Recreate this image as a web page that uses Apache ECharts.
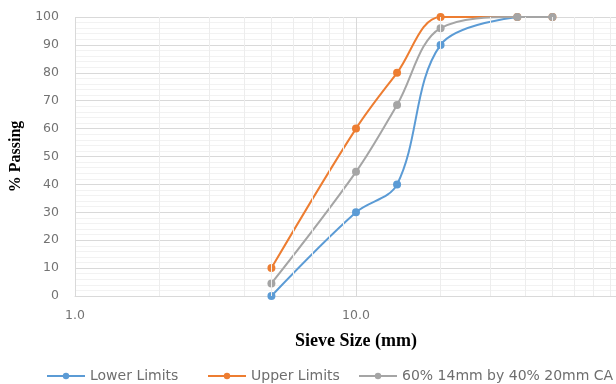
<!DOCTYPE html>
<html><head><meta charset="utf-8">
<script src="https://cdn.jsdelivr.net/npm/echarts@6/dist/echarts.min.js"></script>
<style>html,body{margin:0;padding:0;background:#fff}#c{width:616px;height:384px}</style>
</head><body><div id="c"></div>
<script>
const seriesNames = ['Lower Limits', 'Upper Limits', '60% 14mm by 40% 20mm CA'];
const lowerX = [5, 10, 14, 20];
const lowerY = [0, 30, 40, 90];
const lowerTailX = [37.5];
const lowerTailY = [100];
const upperX = [5, 10, 14, 20, 37.5, 50];
const upperY = [10, 60, 80, 100, 100, 100];
const blendX = [5, 10, 14, 20, 37.5, 50];
const blendY = [4.5, 44.5, 68.5, 96, 100, 100];
const minorXLines = [2, 3, 4, 5, 6, 7, 8, 9, 20, 30, 40, 50, 60, 70, 80, 90];

const zip = (xs, ys) => xs.map((x, i) => [x, ys[i]]);
const colors = ['#5B9BD5', '#ED7D31', '#A5A5A5'];

const lowerData = zip(lowerX, lowerY).concat(zip(lowerTailX, lowerTailY).map(p => ({value: p, symbolSize: 0})));

const legendStyle = {
  top: 369, padding: 0, itemWidth: 38, itemHeight: 8, itemGap: 10,
  textStyle: {color: '#6E6E6E', fontSize: 14, fontFamily: 'DejaVu Sans'}
};
const legendLefts = [46, 207, 358];

const chart = echarts.init(document.getElementById('c'), null, {renderer: 'canvas'});
chart.setOption({
  animation: false,
  color: colors,
  grid: {left: 75, top: 17, width: 562, height: 279, containLabel: false, outerBoundsMode: 'none'},
  legend: seriesNames.map((n, i) => Object.assign({data: [n], left: legendLefts[i]}, legendStyle)),
  xAxis: {
    type: 'log', logBase: 10, min: 1, max: 100,
    name: 'Sieve Size (mm)', nameLocation: 'middle', nameGap: 36,
    nameTextStyle: {fontFamily: 'Liberation Serif', fontWeight: 'bold', fontSize: 18, color: '#000'},
    axisLine: {show: true, lineStyle: {color: '#D9D9D9', width: 1}},
    axisTick: {show: false},
    axisLabel: {color: '#737373', fontSize: 12.5, fontFamily: 'DejaVu Sans', margin: 13, formatter: v => Number(v).toFixed(1)},
    splitLine: {show: true, lineStyle: {color: '#D9D9D9', width: 1}}
  },
  yAxis: {
    type: 'value', min: 0, max: 100, interval: 10,
    name: '% Passing', nameLocation: 'middle', nameGap: 47, nameRotate: 90,
    nameTextStyle: {fontFamily: 'Liberation Serif', fontWeight: 'bold', fontSize: 16, color: '#000'},
    axisLine: {show: false}, axisTick: {show: false},
    axisLabel: {color: '#737373', fontSize: 12.5, fontFamily: 'DejaVu Sans', margin: 16},
    splitLine: {show: true, lineStyle: {color: '#D9D9D9', width: 1}},
    minorTick: {show: false, splitNumber: 5},
    minorSplitLine: {show: true, lineStyle: {color: '#F2F2F2', width: 1}}
  },
  series: [
    {
      name: seriesNames[0], type: 'line', data: lowerData, smooth: 0.35,
      symbol: 'circle', symbolSize: 8, lineStyle: {width: 2}, z: 3,
      markLine: {
        silent: true, symbol: 'none', label: {show: false},
        lineStyle: {color: '#EDEDED', width: 1, type: 'solid'},
        data: minorXLines.map(v => ({xAxis: v}))
      }
    },
    {
      name: seriesNames[1], type: 'line', data: zip(upperX, upperY), smooth: 0.35,
      symbol: 'circle', symbolSize: 8, lineStyle: {width: 2}, z: 2
    },
    {
      name: seriesNames[2], type: 'line', data: zip(blendX, blendY), smooth: 0.35,
      symbol: 'circle', symbolSize: 8, lineStyle: {width: 2}, z: 4
    }
  ]
});
</script></body></html>
